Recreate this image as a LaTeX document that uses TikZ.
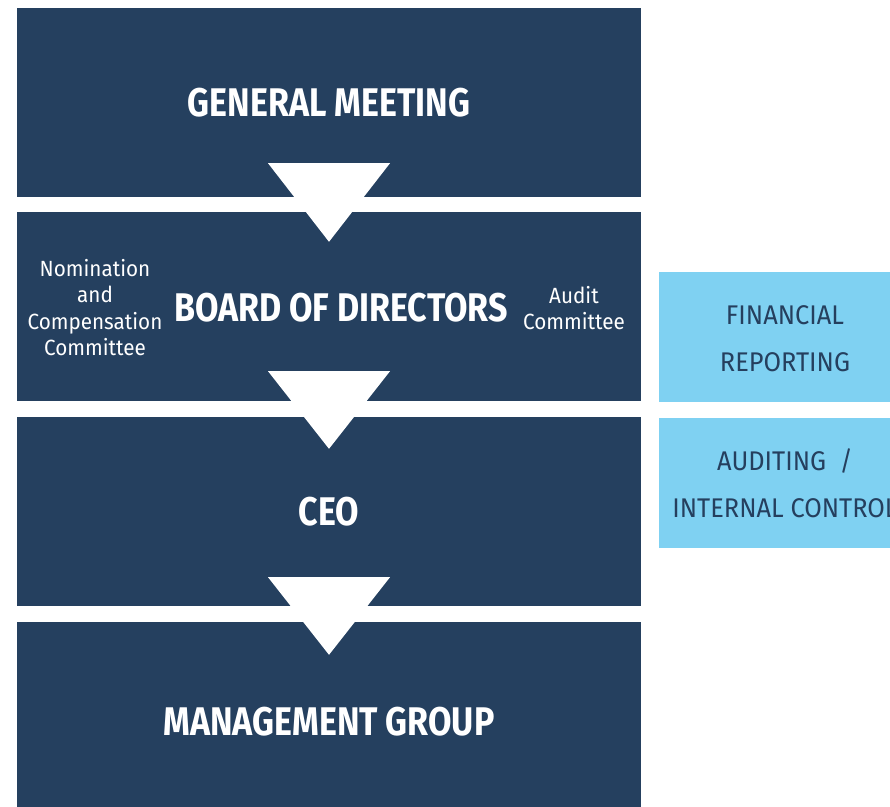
\documentclass[tikz,border=0pt]{standalone}
\usepackage{fontspec}
\setmainfont{Fira Sans}[FakeStretch=0.85]
\newfontfamily\regfont{Fira Sans}[FakeStretch=0.94]
\usetikzlibrary{calc}
\definecolor{navy}{HTML}{25405F}
\definecolor{sky}{HTML}{7FD1F2}
\definecolor{skytext}{HTML}{253F5E}
\begin{document}
\begin{tikzpicture}[x=1pt,y=-1pt,
  darkbox/.style={fill=navy,draw=none,minimum width=624pt,minimum height=189pt,inner sep=0pt,
    text=white,font=\fontsize{40}{44}\selectfont\bfseries},
  lightbox/.style={fill=sky,draw=none,minimum width=252pt,minimum height=130pt,inner sep=0pt},
  lighttext/.style={text=skytext,align=center,inner sep=0pt,font=\regfont\fontsize{27}{47}\selectfont},
  committee/.style={text=white,align=center,inner sep=0pt,font=\regfont\fontsize{22}{26.5}\selectfont},
  arrowtri/.style={fill=white,draw=none}]
\useasboundingbox (0,0) rectangle (890,806);
\clip (0,0) rectangle (890,806);
\fill[white] (0,0) rectangle (890,806);
\node[darkbox] (gm) at (329,102.5) {GENERAL MEETING};
\node[darkbox] (bod) at (329,306.5) {};
\node[darkbox] (ceo) at (329,511.5) {CEO};
\node[darkbox,minimum height=200pt] (mg) at (329,722) {MANAGEMENT GROUP};
\node[text=white,inner sep=0pt,font=\fontsize{40}{44}\selectfont\bfseries] (bodt) at (341,308) {BOARD OF DIRECTORS};
\node[committee] (nom) at (95,307.5) {Nomination\\and\\Compensation\\Committee};
\node[committee] (aud) at (574,308) {Audit\\Committee};
\node[lightbox] (fr) at (785,337) {};
\node[lighttext] (frt) at (785,338.5) {FINANCIAL\\REPORTING};
\node[lightbox] (ai) at (785,482.5) {};
\node[lighttext] (ait) at (785,483.5) {AUDITING~~/\\INTERNAL CONTROL};
\fill[arrowtri] ($(gm.south)+(-61,-34)$) -- ($(gm.south)+(61,-34)$) -- ($(bod.north)+(0,30)$) -- cycle;
\fill[arrowtri] ($(bod.south)+(-61,-30)$) -- ($(bod.south)+(61,-30)$) -- ($(ceo.north)+(0,32)$) -- cycle;
\fill[arrowtri] ($(ceo.south)+(-61,-29)$) -- ($(ceo.south)+(61,-29)$) -- ($(mg.north)+(0,33)$) -- cycle;
\end{tikzpicture}
\end{document}
